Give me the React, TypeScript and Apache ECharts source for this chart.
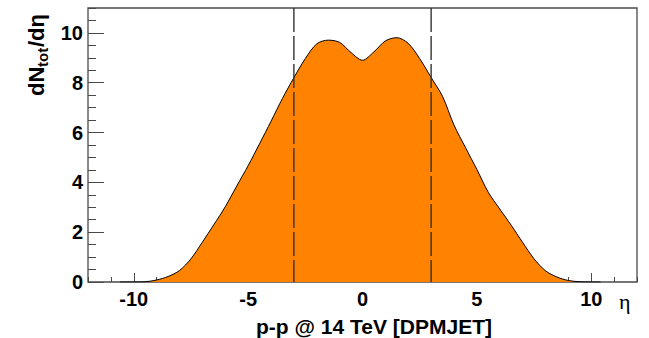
import React, { useEffect, useRef } from "react";
import * as echarts from "echarts";

// pseudorapidity bins (eta) and dN/deta values
const etaValues = [
  -10.6, -10, -9.5, -9, -8.5, -8, -7.5, -7, -6.5, -6, -5.5, -5, -4.5, -4, -3.5, -3,
  -2.5, -2, -1.5, -1, -0.5, 0, 0.5, 1, 1.5, 2, 2.5, 3, 3.5, 4, 4.5, 5, 5.5, 6, 6.5,
  7, 7.5, 8, 8.5, 9, 9.5, 10, 10.4,
];
const dndetaValues = [
  0, 0, 0.01, 0.08, 0.22, 0.46, 0.93, 1.6, 2.3, 3.02, 3.85, 4.67, 5.55, 6.45, 7.37, 8.2,
  8.97, 9.56, 9.71, 9.62, 9.21, 8.9, 9.24, 9.68, 9.81, 9.58, 8.97, 8.21, 7.45, 6.3,
  5.4, 4.52, 3.6, 2.93, 2.28, 1.59, 0.93, 0.45, 0.2, 0.06, 0.01, 0, 0,
];
const cutLines = [-3, 3];
const xTitle = "p-p @ 14 TeV [DPMJET]";
const xUnit = "η";

const AXIS_COLOR = "#4a4a4a";
const LABEL_FONT = '"Liberation Sans", Arial, Helvetica, sans-serif';

// frame layout
const G_LEFT = 88;
const G_RIGHT = 12;
const G_TOP = 8;
const G_BOTTOM = 56;
const X_MIN = -12;
const X_MAX = 12;
const Y_MIN = 0;
const Y_MAX = 11;
const X_MAJOR_MIN = -10;
const X_MAJOR_MAX = 10;
const PLOT_W = 649 - G_LEFT - G_RIGHT;
const UNIT = PLOT_W / (X_MAX - X_MIN);

export default function App() {
  const ref = useRef<HTMLDivElement>(null);

  useEffect(() => {
    if (!ref.current) return;
    const chart = echarts.init(ref.current, null, { renderer: "svg" });
    const data = etaValues.map((x, i) => [x, dndetaValues[i]]);

    const labelStyle = {
      color: "#000",
      fontFamily: LABEL_FONT,
      fontWeight: "bold" as const,
      fontSize: 20,
    };
    const hiddenLine = { show: false, onZero: false };

    const cutSeries = cutLines.map((v) => ({
      type: "line",
      xAxisIndex: 0,
      yAxisIndex: 0,
      data: [
        [v, Y_MAX],
        [v, Y_MIN],
      ],
      symbol: "none",
      silent: true,
      lineStyle: { color: "#333", width: 1.4, type: [24, 4] },
      z: 3,
    }));

    chart.setOption({
      animation: false,
      backgroundColor: "#fff",
      grid: [
        {
          left: G_LEFT,
          top: G_TOP,
          right: G_RIGHT,
          bottom: G_BOTTOM,
          show: true,
          borderColor: AXIS_COLOR,
          borderWidth: 1.3,
          backgroundColor: "transparent",
        },
        {
          // same frame, restricted to the labelled range -10..10 for major ticks
          left: G_LEFT + (X_MAJOR_MIN - X_MIN) * UNIT,
          right: G_RIGHT + (X_MAX - X_MAJOR_MAX) * UNIT,
          top: G_TOP,
          bottom: G_BOTTOM,
          show: false,
        },
      ],
      xAxis: [
        {
          type: "value",
          gridIndex: 0,
          position: "bottom",
          min: X_MIN,
          max: X_MAX,
          interval: 1,
          axisLine: hiddenLine,
          splitLine: { show: false },
          axisTick: { show: true, inside: true, length: 5, lineStyle: { color: AXIS_COLOR, width: 1 } },
          axisLabel: { show: false },
        },
        {
          type: "value",
          gridIndex: 1,
          position: "bottom",
          min: X_MAJOR_MIN,
          max: X_MAJOR_MAX,
          interval: 5,
          axisLine: hiddenLine,
          splitLine: { show: false },
          axisTick: { show: true, inside: true, length: 9, lineStyle: { color: AXIS_COLOR, width: 1 } },
          axisLabel: { ...labelStyle, margin: 7 },
        },
      ],
      yAxis: [
        {
          type: "value",
          gridIndex: 0,
          position: "left",
          min: Y_MIN,
          max: Y_MAX,
          interval: 0.5,
          axisLine: hiddenLine,
          splitLine: { show: false },
          axisTick: { show: true, inside: true, length: 8, lineStyle: { color: AXIS_COLOR, width: 1 } },
          axisLabel: { show: false },
        },
        {
          type: "value",
          gridIndex: 0,
          position: "left",
          min: Y_MIN,
          max: Y_MAX,
          interval: 2,
          axisLine: hiddenLine,
          splitLine: { show: false },
          axisTick: { show: true, inside: true, length: 16, lineStyle: { color: AXIS_COLOR, width: 1 } },
          axisLabel: { ...labelStyle, margin: 5, showMaxLabel: false },
        },
        {
          type: "value",
          gridIndex: 1,
          min: Y_MIN,
          max: Y_MAX,
          show: false,
        },
      ],
      series: [
        {
          type: "line",
          xAxisIndex: 0,
          yAxisIndex: 0,
          data,
          smooth: 0.3,
          symbol: "none",
          silent: true,
          lineStyle: { color: "#000", width: 1 },
          areaStyle: { color: "#ff8200", opacity: 1 },
          z: 1,
        },
        ...cutSeries,
      ],
      graphic: [
        {
          type: "group",
          x: 36,
          y: 96,
          rotation: Math.PI / 2,
          children: [
            {
              type: "text",
              x: 0,
              y: 0,
              style: { text: "dN", font: `bold 22px ${LABEL_FONT}`, fill: "#000", verticalAlign: "middle", align: "left" },
            },
            {
              type: "text",
              x: 29,
              y: 6,
              style: { text: "tot", font: `bold 15px ${LABEL_FONT}`, fill: "#000", verticalAlign: "middle", align: "left" },
            },
            {
              type: "text",
              x: 49,
              y: 0,
              style: { text: "/dη", font: `bold 22px ${LABEL_FONT}`, fill: "#000", verticalAlign: "middle", align: "left" },
            },
          ],
        },
        {
          type: "text",
          x: 374,
          y: 326,
          style: {
            text: xTitle,
            font: `bold 21px ${LABEL_FONT}`,
            fill: "#000",
            align: "center",
            verticalAlign: "middle",
          },
        },
        {
          type: "text",
          x: 619,
          y: 301,
          style: {
            text: xUnit,
            font: `22px "Liberation Serif", "Times New Roman", serif`,
            fill: "#000",
            align: "left",
            verticalAlign: "middle",
          },
        },
      ],
    });

    return () => chart.dispose();
  }, []);

  return (
    <div
      ref={ref}
      style={{ position: "absolute", left: 0, top: 0, width: 649, height: 338, background: "#fff" }}
    />
  );
}
